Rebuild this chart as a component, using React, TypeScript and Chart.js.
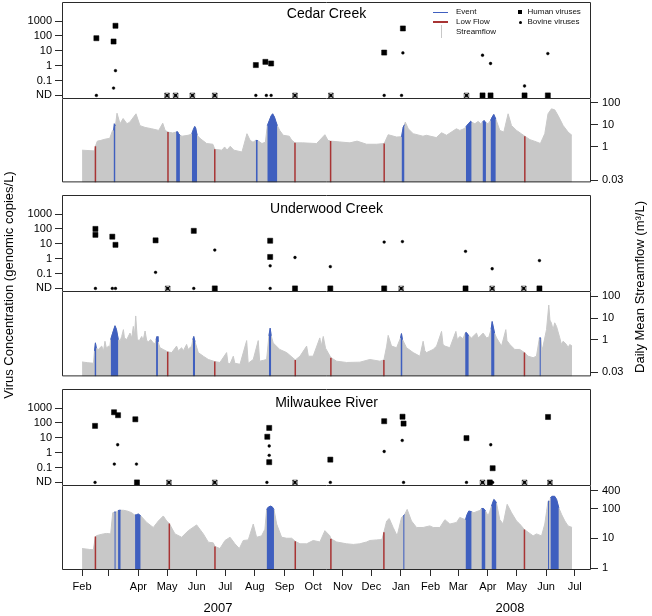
import React, { useEffect, useRef } from "react";
import { Chart, registerables } from "chart.js";

Chart.register(...registerables);

type Pt = [number, number];

const FONT = "'Liberation Sans', Arial, Helvetica, sans-serif";
const AXIS = "#2a2a2a";
const GREY = "#c8c8c8";
const BLUE = "#3f5fbf";
const RED = "#a83434";

// x axis: days since 1 Feb 2007
const X_MIN = -21;
const X_MAX = 533;
const monthTickDays = [0, 28, 59, 89, 120, 150, 181, 212, 242, 273, 303, 334, 365, 394, 425, 455, 486, 516];
const monthTickLabels = ["Feb", "", "Apr", "May", "Jun", "Jul", "Aug", "Sep", "Oct", "Nov", "Dec", "Jan", "Feb", "Mar", "Apr", "May", "Jun", "Jul"];

// virus axis
const ND = 0.01;
const VIRUS_MIN = 0.00575;
const VIRUS_MAX = 19000;
const virusTickValues = [1000, 100, 10, 1, 0.1, ND];
const virusTickLabels = ["1000", "100", "10", "1", "0.1", "ND"];

const creekFlowTicks = [100, 10, 1, 0.03];
const creekFlowTickLabels = ["100", "10", "1", "0.03"];
const riverFlowTicks = [400, 100, 10, 1];
const riverFlowTickLabels = ["400", "100", "10", "1"];

// ---------------- Cedar Creek ----------------
const cedarHuman: Pt[] = [[15, 70], [33, 42], [35, 480], [182, 1.1], [192, 1.8], [198, 1.4], [316.4, 7.6], [336, 316]];
const cedarHumanND = [419.4, 427.8, 463.4, 487.8];
const cedarBovine: Pt[] = [[33, 0.031], [35, 0.46], [336, 7.2], [419.4, 5], [427.8, 1.4], [463.4, 0.043], [487.8, 6.5]];
const cedarBovineND = [15, 182, 193, 198, 316.4, 334.6];
const cedarBothND = [89, 98, 115.5, 139, 223, 260.6, 402.6];
const cedarFlow: Pt[] = [
  [0, 0.7], [13, 0.65], [14, 1.05], [16, 1.8], [19, 1.9], [24, 2.2], [29, 2.4], [32, 5.5],
  [36.6, 33], [39.8, 11], [43, 19], [47, 11], [50, 13], [56.5, 31], [60.7, 9], [66, 7.5], [73, 6.5], [80.3, 5.5],
  [84.5, 11.6], [87, 5.5], [90, 4.6], [95, 4.2],
  [104.7, 3.0], [111, 3.3], [114, 3.6],
  [123.5, 2.4], [130.5, 1.4], [137, 1.3], [139, 0.77], [146.5, 0.7], [149.3, 0.98], [151.8, 0.7], [155.2, 1.05],
  [159, 0.7], [167.5, 0.58], [172.7, 3.9], [176, 1.95], [179, 1.6],
  [188.4, 1.4], [192, 1.6],
  [207, 5.5], [210.7, 3.3], [217, 3.0], [219.5, 2.0], [223, 1.5], [231, 1.5], [245.6, 1.4], [254.3, 3.5], [257.5, 1.95],
  [260.3, 1.8], [270, 1.65], [280.5, 1.5], [288, 1.8], [298, 1.3], [308.5, 1.3], [316.4, 1.4], [320.6, 3.5], [329.4, 2.75], [333, 2.8],
  [338.5, 13], [341.6, 6.5], [346.8, 3.9], [357, 3.0], [360.6, 3.3], [371, 2.6], [376.5, 4.3], [381.7, 3.3], [392, 6.5],
  [395.6, 5.5], [400, 6.5],
  [411.4, 11], [414.8, 14], [417.5, 11],
  [425.2, 11],
  [437.5, 5.5], [441.7, 4.6], [446.2, 31], [449.7, 9.2], [455, 5.5], [460, 3.9], [463.7, 3.0], [469, 2.1], [476, 1.65],
  [480, 1.4], [482.2, 2.3], [484.6, 3.9], [488, 31], [491.6, 52], [495, 47], [498.5, 26], [503.8, 9.2], [509, 4.6], [513, 3.3],
];
const cedarEvents: Pt[][] = [
  [[33, 5.5], [33.8, 11], [35, 9]],
  [[98.5, 4.6], [100, 4.8], [101, 4], [102.5, 3.3]],
  [[115, 3.9], [116.5, 6], [118, 8.3], [119, 7], [120.5, 3.3]],
  [[182, 1.95], [184, 1.9]],
  [[194, 9], [196, 15], [198, 25], [199.6, 31], [201.5, 22], [203, 14], [204.5, 9]],
  [[334.6, 2.8], [336.3, 7.7], [337.7, 10]],
  [[402, 8], [404.5, 11], [407, 14.3], [408, 13]],
  [[419.4, 13], [421, 15.5], [423, 12]],
  [[427.8, 15.5], [429.5, 22], [431.2, 29], [433.3, 18]],
];
const cedarLowFlow: Pt[] = [[14, 1.05], [90, 4.6], [139, 0.77], [223, 1.5], [260.3, 1.8], [316.4, 1.4], [463.7, 3.0]];

// ---------------- Underwood Creek ----------------
const underwoodHuman: Pt[] = [[14, 100], [14, 40], [31.7, 30], [35, 8.5], [77, 17], [117, 74], [197, 16], [197, 1.3]];
const underwoodHumanND = [139, 223, 260, 316.4, 401.6, 479];
const underwoodBovine: Pt[] = [[77, 0.12], [139, 3.8], [197, 0.33], [223, 1.2], [260, 0.29], [316.4, 13], [335.5, 14], [401.6, 3.1], [429.5, 0.21], [479, 0.74]];
const underwoodBovineND = [14, 31.7, 35, 117, 197];
const underwoodBothND = [89.7, 334.2, 429.5, 462.6];
const underwoodFlow: Pt[] = [
  [0, 0.092], [6, 0.085], [12, 0.08],
  [17, 0.35], [20.6, 0.5], [22.5, 0.3], [24, 0.84], [25.5, 0.4], [27.6, 0.5], [29, 0.45],
  [40, 0.9], [41.5, 1.4], [43.3, 2.9], [44.4, 1.2], [46.8, 1.0], [50.2, 2.0], [52, 1.2], [53.7, 4.1], [55, 1.5], [56.2, 12.5],
  [57.9, 1.0], [60, 0.9], [62.5, 1.4], [64, 0.9], [66, 2.5], [67.7, 0.9], [69.4, 0.8], [72, 1.0], [74.6, 0.7], [76.5, 0.65],
  [81.6, 0.42], [85, 0.35], [89.7, 0.27], [93.9, 0.25], [99, 0.5], [100.8, 0.3], [104.3, 0.42], [106, 0.3], [109.5, 0.6],
  [111, 0.35], [114.8, 0.5],
  [121.7, 0.25], [127, 0.17], [132.2, 0.12], [139, 0.096], [144.4, 0.087], [151.4, 0.25], [152.8, 0.08], [155, 0.075],
  [158.4, 0.17], [160, 0.08], [165.4, 0.072], [172.4, 0.9], [174, 0.08], [179.3, 0.12], [184.5, 0.9], [186, 0.1], [190, 0.11], [193.3, 0.12],
  [200.2, 0.7], [207, 0.35], [214.3, 0.25], [223.3, 0.114], [228.2, 0.17], [235.2, 0.5], [237, 0.17], [242, 0.17], [249, 1.2],
  [250.5, 0.5], [252.6, 1.4], [255, 0.4], [260.6, 0.145], [266.6, 0.1], [277, 0.087], [291, 0.09], [301.4, 0.12], [311.9, 0.1],
  [316.1, 0.114], [319, 0.5], [320.6, 1.57], [324.1, 0.5], [329.4, 0.42],
  [339.8, 0.42], [346.8, 0.25], [353.8, 0.17], [357.2, 0.84], [359, 0.3], [360.8, 0.25], [367.7, 0.35], [371.3, 0.5], [376.5, 2.4],
  [378, 0.6], [380, 0.5], [385.2, 0.42], [391.5, 2.4], [393, 1.0], [395.6, 1.4], [399, 1.1],
  [407.9, 1.2], [413.1, 2.0], [414.8, 1.2], [416.6, 1.4], [420, 2.0], [423.6, 1.2], [426, 1.3],
  [434.1, 1.2], [439.3, 0.5], [443.8, 2.9], [445, 0.9], [448, 0.59], [453.2, 0.35], [458.4, 0.35], [463.3, 0.25], [467.1, 0.17],
  [472.4, 0.145], [475.9, 0.17],
  [481.5, 0.3], [482.8, 0.5], [486.4, 2.9], [488.8, 40], [490, 8], [491.6, 5.8], [493.3, 2.9], [495, 6], [496.9, 4.1], [500.3, 1.2],
  [502, 0.6], [503.8, 0.84], [507.3, 0.6], [509, 0.42], [510.7, 0.59], [513.2, 0.5],
];
const underwoodEvents: Pt[][] = [
  [[13, 0.3], [14, 0.71], [15, 0.4]],
  [[30, 1.0], [32, 2.0], [34.5, 4.4], [36, 3.0], [38, 1.0]],
  [[77.5, 1.0], [78.5, 1.4], [79.5, 0.8]],
  [[116, 1.0], [117, 1.4], [118.3, 0.8]],
  [[195.7, 1.5], [197, 3.4], [198.1, 1.5]],
  [[333.5, 1.2], [334.5, 1.9], [335.6, 1.0]],
  [[401.2, 2.0], [402.5, 2.15], [405, 1.5]],
  [[428.4, 3.0], [429.5, 6.9], [432, 2.0]],
  [[479, 1.2], [480.5, 1.2]],
];
const underwoodLowFlow: Pt[] = [[89.7, 0.27], [139, 0.096], [223.3, 0.114], [260.6, 0.145], [316.1, 0.114], [463.3, 0.25]];

// ---------------- Milwaukee River ----------------
const milwaukeeHuman: Pt[] = [[13.6, 63], [33.5, 520], [37.7, 330], [55.8, 175], [194, 11.7], [196, 46], [196, 0.23], [260, 0.34], [316.4, 130], [335.6, 260], [336.7, 90], [402.6, 9.5], [430, 0.09], [488, 250]];
const milwaukeeHumanND = [57.5, 427];
const milwaukeeBovine: Pt[] = [[33.8, 0.17], [37.3, 3.4], [57, 0.17], [196, 2.8], [196, 0.66], [316.4, 1.2], [335.3, 6.6], [428, 3.4]];
const milwaukeeBovineND = [13.6, 193.6, 260, 336.7, 402.6, 430];
const milwaukeeBothND = [91, 139, 223, 419.4, 463.4, 490];
const milwaukeeFlow: Pt[] = [
  [0, 4.5], [8, 4.2], [11.8, 4.1], [14, 11.4], [15.4, 12.3], [22.3, 14], [25.8, 14.5], [30, 14], [32.1, 72], [33.5, 74],
  [36.5, 78],
  [43.3, 87], [46.8, 83], [52, 72], [54.5, 62],
  [67.7, 34], [74.6, 23], [79.9, 38], [85.1, 56], [88.6, 38], [91.4, 31], [97.3, 14], [104.3, 10.8], [111.3, 18], [120, 28],
  [127, 14], [132.2, 7.4], [137.4, 7], [139.2, 5.3], [144.4, 4.5], [149.7, 8.4], [155, 10.8], [160.1, 6.5], [164.7, 4.5],
  [168.8, 8.4], [174.1, 8.8], [179.3, 30], [182.8, 10.8], [188, 12], [191.5, 20],
  [203.8, 30], [209, 10.8], [214.3, 10], [219.5, 10], [223.3, 7.9], [228.2, 6.5], [235.2, 6.5], [242.1, 8.4], [249.1, 7.5],
  [254.3, 18], [259.6, 12], [260.6, 9.6], [266.6, 7.5], [277, 6.5], [284, 6.2], [291, 6.5], [294.4, 7], [298, 7.5], [301.4, 8.4],
  [308.5, 8.8], [314, 9], [316.1, 15.8], [319, 38], [321.7, 46], [325.8, 23], [330, 12], [334.6, 50],
  [340.5, 93], [345, 38], [350.3, 23], [357.2, 23], [364.2, 26], [367.7, 23], [374.7, 23], [380, 42], [385.2, 30], [392.2, 34],
  [395.6, 50], [399, 45],
  [410.3, 72], [414.8, 82], [416.5, 85],
  [425.3, 56], [427, 80],
  [437.5, 42], [441, 30], [445.2, 138], [449.8, 72], [455, 38], [458.4, 30], [463.3, 19.5], [467.1, 16], [472.4, 12],
  [475.9, 14], [481.2, 12], [484.6, 30], [486.5, 80],
  [489.8, 150],
  [502.1, 64], [505.6, 38], [509, 26], [513.2, 23],
];
const milwaukeeEvents: Pt[][] = [
  [[33.8, 76], [35.3, 76]],
  [[37.7, 85], [39, 87], [40.5, 87]],
  [[55.5, 60], [57, 62], [59, 65], [61.4, 57]],
  [[193.3, 93], [195, 110], [197, 120], [199, 115], [201, 93]],
  [[336.3, 56], [337.8, 62]],
  [[401.6, 42], [403, 60], [405, 82], [408, 78]],
  [[418.3, 100], [420.5, 100], [422.5, 82]],
  [[428.8, 120], [431.2, 200], [432.5, 185], [434, 155]],
  [[488, 175], [489.3, 175]],
  [[490.5, 225], [492, 256], [495, 256], [497, 200], [499.3, 105]],
];
const milwaukeeLowFlow: Pt[] = [[14, 11.4], [91.4, 31], [139.2, 5.3], [223.3, 7.9], [260.6, 9.6], [316.1, 15.8], [463.3, 19.5]];

// ---------------- layout ----------------
const PAD = 10;
const LEFT_W = 62;
const RIGHT_W = 61;
const XAXIS_H = 30;
const W = 652;

const panels = [
  {
    title: "Cedar Creek", titleTop: 5, virusTop: 2, virusBottom: 99, flowBottom: 183,
    flowMin: 0.0244, flowMax: 136, flowTicks: creekFlowTicks, flowTickLabels: creekFlowTickLabels,
    human: cedarHuman, humanND: cedarHumanND, bovine: cedarBovine, bovineND: cedarBovineND, bothND: cedarBothND,
    flow: cedarFlow, events: cedarEvents, lowFlow: cedarLowFlow,
  },
  {
    title: "Underwood Creek", titleTop: 200, virusTop: 195, virusBottom: 292, flowBottom: 377,
    flowMin: 0.0197, flowMax: 151, flowTicks: creekFlowTicks, flowTickLabels: creekFlowTickLabels,
    human: underwoodHuman, humanND: underwoodHumanND, bovine: underwoodBovine, bovineND: underwoodBovineND, bothND: underwoodBothND,
    flow: underwoodFlow, events: underwoodEvents, lowFlow: underwoodLowFlow,
  },
  {
    title: "Milwaukee River", titleTop: 394, virusTop: 389, virusBottom: 486, flowBottom: 570,
    flowMin: 0.857, flowMax: 543, flowTicks: riverFlowTicks, flowTickLabels: riverFlowTickLabels,
    human: milwaukeeHuman, humanND: milwaukeeHumanND, bovine: milwaukeeBovine, bovineND: milwaukeeBovineND, bothND: milwaukeeBothND,
    flow: milwaukeeFlow, events: milwaukeeEvents, lowFlow: milwaukeeLowFlow,
  },
];

const toXY = (arr: Pt[]) => arr.map(([x, y]) => ({ x, y }));
const ndXY = (days: number[]) => days.map((x) => ({ x, y: ND }));
const labelFor = (vals: number[], labs: string[]) => (v: any) => {
  const i = vals.findIndex((t) => Math.abs(t - Number(v)) < t * 1e-6);
  return i >= 0 ? labs[i] : "";
};

const makeFrame = (full: boolean) => ({
  id: "frame",
  afterDraw(chart: any) {
    const { ctx, chartArea: a } = chart;
    const l = a.left + 0.5, r = a.right - 0.5, t = a.top + 0.5, b = a.bottom - 0.5;
    ctx.save();
    ctx.strokeStyle = AXIS;
    ctx.lineWidth = 1;
    ctx.beginPath();
    if (full) {
      ctx.moveTo(l, b); ctx.lineTo(l, t); ctx.lineTo(r, t); ctx.lineTo(r, b); ctx.closePath();
    } else {
      ctx.moveTo(l, a.top - 0.5); ctx.lineTo(l, b); ctx.lineTo(r, b); ctx.lineTo(r, a.top - 0.5);
    }
    ctx.stroke();
    ctx.restore();
  },
});

const tickFont = { family: FONT, size: 11 };

function virusConfig(p: any): any {
  const sq = { pointStyle: "rect", pointRadius: 3.6, backgroundColor: "#000", borderColor: "#000", borderWidth: 0.5 };
  const dot = { pointStyle: "circle", pointRadius: 1.4, backgroundColor: "#000", borderColor: "#000", borderWidth: 0.4 };
  return {
    type: "scatter",
    data: {
      datasets: [
        { ...sq, data: toXY(p.human), order: 1 },
        { ...sq, data: ndXY(p.humanND), order: 1 },
        { ...dot, data: toXY(p.bovine), order: 0 },
        { ...dot, data: ndXY(p.bovineND), order: 0 },
        { pointStyle: "rect", pointRadius: 3.4, borderColor: "#9a9a9a", borderWidth: 1, backgroundColor: "#fff", data: ndXY(p.bothND), order: 4 },
        { pointStyle: "crossRot", pointRadius: 3.3, borderColor: "#1a1a1a", borderWidth: 1.1, data: ndXY(p.bothND), order: 3 },
        { ...dot, pointRadius: 1.3, data: ndXY(p.bothND), order: 2 },
      ],
    },
    options: {
      responsive: false, animation: false, devicePixelRatio: 1, events: [],
      layout: { padding: { left: 0, right: RIGHT_W, top: PAD, bottom: PAD } },
      plugins: { legend: { display: false }, tooltip: { enabled: false } },
      scales: {
        x: { type: "linear", display: false, min: X_MIN, max: X_MAX },
        y: {
          type: "logarithmic", position: "left", min: VIRUS_MIN, max: VIRUS_MAX,
          afterFit: (s: any) => { s.width = LEFT_W; },
          afterBuildTicks: (s: any) => { s.ticks = virusTickValues.map((v) => ({ value: v })); },
          ticks: { callback: labelFor(virusTickValues, virusTickLabels), font: tickFont, color: "#000", padding: 3, autoSkip: false },
          grid: { drawOnChartArea: false, drawTicks: true, tickLength: 7, color: AXIS },
          border: { display: false },
        },
      },
    },
    plugins: [makeFrame(true)],
  };
}

function flowConfig(p: any, last: boolean): any {
  const all = [...p.flow, ...p.events.flat()].sort((a: Pt, b: Pt) => a[0] - b[0]);
  const datasets: any[] = [
    { data: toXY(all), borderColor: GREY, borderWidth: 1, backgroundColor: GREY, fill: "start", pointRadius: 0, tension: 0, order: 3 },
  ];
  p.events.forEach((ev: Pt[]) =>
    datasets.push({ data: toXY(ev), borderColor: BLUE, borderWidth: 1, backgroundColor: BLUE, fill: "start", pointRadius: 0, tension: 0, order: 2 })
  );
  p.lowFlow.forEach(([d, v]: Pt) =>
    datasets.push({ data: [{ x: d, y: p.flowMin }, { x: d, y: v }], borderColor: RED, borderWidth: 1.5, fill: false, pointRadius: 0, order: 1 })
  );
  return {
    type: "line",
    data: { datasets },
    options: {
      responsive: false, animation: false, devicePixelRatio: 1, events: [],
      layout: { padding: { left: LEFT_W, right: 0, top: PAD, bottom: last ? 0 : PAD } },
      plugins: { legend: { display: false }, tooltip: { enabled: false } },
      scales: {
        x: last
          ? {
              type: "linear", display: true, position: "bottom", min: X_MIN, max: X_MAX,
              afterFit: (s: any) => { s.height = XAXIS_H; },
              afterBuildTicks: (s: any) => { s.ticks = monthTickDays.map((v) => ({ value: v })); },
              ticks: { callback: (_v: any, i: number) => monthTickLabels[i], autoSkip: false, maxRotation: 0, font: tickFont, color: "#000", padding: 4 },
              grid: { drawOnChartArea: false, drawTicks: true, tickLength: 6, color: AXIS },
              border: { display: false },
            }
          : { type: "linear", display: false, min: X_MIN, max: X_MAX },
        y: {
          type: "logarithmic", position: "right", min: p.flowMin, max: p.flowMax,
          afterFit: (s: any) => { s.width = RIGHT_W; },
          afterBuildTicks: (s: any) => { s.ticks = p.flowTicks.map((v: number) => ({ value: v })); },
          ticks: { callback: labelFor(p.flowTicks, p.flowTickLabels), font: tickFont, color: "#000", padding: 4, autoSkip: false },
          grid: { drawOnChartArea: false, drawTicks: true, tickLength: 7, color: AXIS },
          border: { display: false },
        },
      },
    },
    plugins: [makeFrame(false)],
  };
}

const legendText: React.CSSProperties = { position: "absolute", fontSize: 8, lineHeight: "10px", whiteSpace: "nowrap", color: "#111" };

export default function App() {
  const refs = useRef<(HTMLCanvasElement | null)[]>([]);

  useEffect(() => {
    const charts: Chart[] = [];
    panels.forEach((p, i) => {
      const last = i === panels.length - 1;
      const vc = refs.current[i * 2];
      const fc = refs.current[i * 2 + 1];
      if (vc) charts.push(new Chart(vc, virusConfig(p)));
      if (fc) charts.push(new Chart(fc, flowConfig(p, last)));
    });
    return () => charts.forEach((c) => c.destroy());
  }, []);

  const canvases: React.ReactNode[] = [];
  panels.forEach((p, i) => {
    const last = i === panels.length - 1;
    const vh = p.virusBottom - p.virusTop + 2 * PAD;
    const fh = p.flowBottom - p.virusBottom + PAD + (last ? XAXIS_H : PAD);
    canvases.push(
      <canvas key={`v${i}`} ref={(el) => { refs.current[i * 2] = el; }} width={W} height={vh}
        style={{ position: "absolute", left: 0, top: p.virusTop - PAD, width: W, height: vh }} />
    );
    canvases.push(
      <canvas key={`f${i}`} ref={(el) => { refs.current[i * 2 + 1] = el; }} width={W} height={fh}
        style={{ position: "absolute", left: 0, top: p.virusBottom - PAD, width: W, height: fh }} />
    );
  });

  return (
    <div style={{ position: "absolute", left: 0, top: 0, width: W, height: 616, overflow: "hidden", background: "#fff", fontFamily: FONT, color: "#000" }}>
      {canvases}
      {panels.map((p, i) => (
        <div key={`t${i}`} style={{ position: "absolute", left: LEFT_W, width: W - LEFT_W - RIGHT_W, top: p.titleTop, textAlign: "center", fontSize: 14, lineHeight: "16px" }}>
          {p.title}
        </div>
      ))}
      {/* legend */}
      <div style={{ position: "absolute", left: 433, top: 11.5, width: 15, height: 1.5, background: BLUE }} />
      <div style={{ position: "absolute", left: 433, top: 21, width: 15, height: 1.5, background: RED }} />
      <div style={{ position: "absolute", left: 440.5, top: 25, width: 1.5, height: 13, background: GREY }} />
      <div style={{ ...legendText, left: 456, top: 7.4 }}>Event</div>
      <div style={{ ...legendText, left: 456, top: 16.8 }}>Low Flow</div>
      <div style={{ ...legendText, left: 456, top: 27 }}>Streamflow</div>
      <div style={{ position: "absolute", left: 518, top: 10.3, width: 4, height: 4, background: "#000" }} />
      <div style={{ position: "absolute", left: 518.5, top: 20.8, width: 3, height: 3, borderRadius: "50%", background: "#000" }} />
      <div style={{ ...legendText, left: 527.5, top: 7.4 }}>Human viruses</div>
      <div style={{ ...legendText, left: 527.5, top: 17.4 }}>Bovine viruses</div>
      {/* year labels */}
      <div style={{ position: "absolute", left: 188, width: 60, top: 600, textAlign: "center", fontSize: 13, lineHeight: "15px" }}>2007</div>
      <div style={{ position: "absolute", left: 480, width: 60, top: 600, textAlign: "center", fontSize: 13, lineHeight: "15px" }}>2008</div>
      {/* axis titles */}
      <div style={{ position: "absolute", left: 9 - 160, top: 285 - 8, width: 320, height: 16, lineHeight: "16px", fontSize: 13, textAlign: "center", transform: "rotate(-90deg)", whiteSpace: "nowrap" }}>
        Virus Concentration (genomic copies/L)
      </div>
      <div style={{ position: "absolute", left: 640 - 160, top: 287 - 8, width: 320, height: 16, lineHeight: "16px", fontSize: 13, textAlign: "center", transform: "rotate(-90deg)", whiteSpace: "nowrap" }}>
        Daily Mean Streamflow (m³/L)
      </div>
    </div>
  );
}
